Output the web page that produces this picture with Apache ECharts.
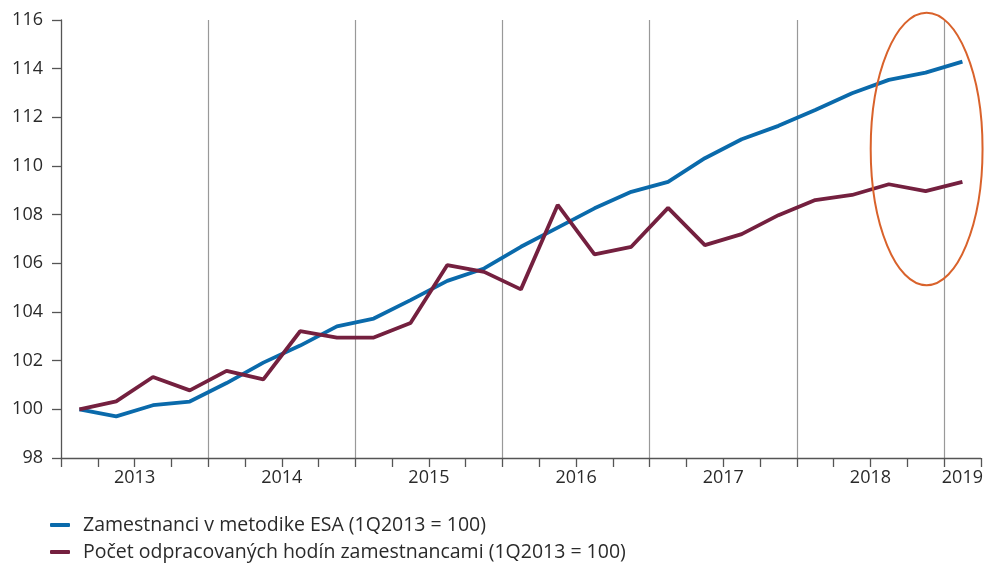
<!DOCTYPE html>
<html>
<head>
<meta charset="utf-8">
<script src="https://cdn.jsdelivr.net/npm/echarts@6/dist/echarts.min.js"></script>
<style>
html,body{margin:0;padding:0;background:#fff;}
#chart{width:986px;height:565px;}
</style>
</head>
<body>
<div id="chart"></div>
<script>
// Quarters 1Q2013 .. 1Q2019
const quarters = [
  '1Q2013','2Q2013','3Q2013','4Q2013',
  '1Q2014','2Q2014','3Q2014','4Q2014',
  '1Q2015','2Q2015','3Q2015','4Q2015',
  '1Q2016','2Q2016','3Q2016','4Q2016',
  '1Q2017','2Q2017','3Q2017','4Q2017',
  '1Q2018','2Q2018','3Q2018','4Q2018',
  '1Q2019'
];
const yearLabels = ['2013','2014','2015','2016','2017','2018','2019'];

const employeesESA = [
  100.0, 99.71, 100.17, 100.32,
  101.08, 101.92, 102.62, 103.41,
  103.73, 104.49, 105.28, 105.79,
  106.68, 107.47, 108.26, 108.94,
  109.35, 110.32, 111.1, 111.65,
  112.3, 112.99, 113.54, 113.84,
  114.29
];
const hoursWorked = [
  100.0, 100.33, 101.33, 100.78,
  101.58, 101.23, 103.21, 102.95,
  102.95, 103.55, 105.93, 105.65,
  104.93, 108.40, 106.37, 106.68,
  108.28, 106.75, 107.2, 107.98,
  108.6, 108.81, 109.25, 108.97,
  109.35
];
const seriesNames = [
  'Zamestnanci v metodike ESA (1Q2013 = 100)',
  'Počet odpracovaných hodín zamestnancami (1Q2013 = 100)'
];

// Half-quarter positions for year labels (centered in each year's span)
const halfSlots = [];
for (let j = 0; j <= quarters.length * 2; j++) halfSlots.push('');
yearLabels.forEach((y, k) => {
  const startQ = k * 4;
  const nQ = Math.min(4, quarters.length - startQ);
  halfSlots[startQ * 2 + nQ] = y;
});

const FONT = 'Open Sans';
const TXT = '#2a2a2a';
const chart = echarts.init(document.getElementById('chart'));
const option = {
  animation: false,
  backgroundColor: '#ffffff',
  textStyle: { fontFamily: FONT },
  grid: { left: 61, right: 3, top: 20, bottom: 107 },
  legend: {
    orient: 'vertical',
    left: 50,
    top: 515,
    padding: 0,
    height: 50,
    itemWidth: 20,
    itemHeight: 4,
    itemGap: 7,
    icon: 'roundRect',
    textStyle: { fontFamily: FONT, fontSize: 19.5, color: TXT, lineHeight: 20, padding: [0,0,0,8] },
    data: seriesNames
  },
  xAxis: [
    {
      type: 'category',
      data: quarters,
      boundaryGap: true,
      axisLine: { lineStyle: { color: '#555', width: 1.3 } },
      axisTick: { show: true, interval: 0, length: 9, lineStyle: { color: '#555', width: 1.3 } },
      axisLabel: { show: false },
      splitLine: { show: false }
    },
    {
      type: 'category',
      data: halfSlots,
      boundaryGap: false,
      position: 'bottom',
      axisLine: { show: false },
      axisTick: { show: false },
      splitLine: {
        show: true,
        interval: function (idx) { return idx > 0 && idx % 8 === 0; },
        lineStyle: { color: '#999', width: 1.2 }
      },
      axisLabel: { show: true, interval: 0, fontSize: 18, color: TXT, fontFamily: FONT, margin: 11 }
    }
  ],
  yAxis: {
    type: 'value',
    min: 98,
    max: 116,
    interval: 2,
    axisLine: { show: true, lineStyle: { color: '#555', width: 1.3 } },
    axisTick: { show: true, length: 9, lineStyle: { color: '#555', width: 1.3 } },
    axisLabel: { fontSize: 18, color: TXT, fontFamily: FONT, margin: 18 },
    splitLine: { show: false }
  },
  series: [
    {
      name: seriesNames[0],
      type: 'line',
      xAxisIndex: 0,
      data: employeesESA,
      symbol: 'none',
      lineStyle: { color: '#0a6aab', width: 3.8 },
      itemStyle: { color: '#0a6aab' },
      z: 3
    },
    {
      name: seriesNames[1],
      type: 'line',
      xAxisIndex: 0,
      data: hoursWorked,
      symbol: 'none',
      lineStyle: { color: '#74203f', width: 3.8 },
      itemStyle: { color: '#74203f' },
      z: 4
    }
  ]
};
chart.setOption(option);

// Highlight ellipse around the last quarters (annotation)
const c = chart.convertToPixel({ xAxisIndex: 0, yAxisIndex: 0 }, [23, 110.7]);
const a = chart.convertToPixel({ xAxisIndex: 0, yAxisIndex: 0 }, [22, 116.3]);
const rx = (c[0] - a[0]) * 1.52;
const ry = (c[1] - a[1]);
chart.setOption({
  graphic: [{
    type: 'ellipse',
    shape: { cx: c[0] + 1, cy: c[1], rx: rx, ry: ry },
    style: { fill: 'none', stroke: '#d9622b', lineWidth: 2 },
    z: 10
  }]
});
</script>
</body>
</html>
